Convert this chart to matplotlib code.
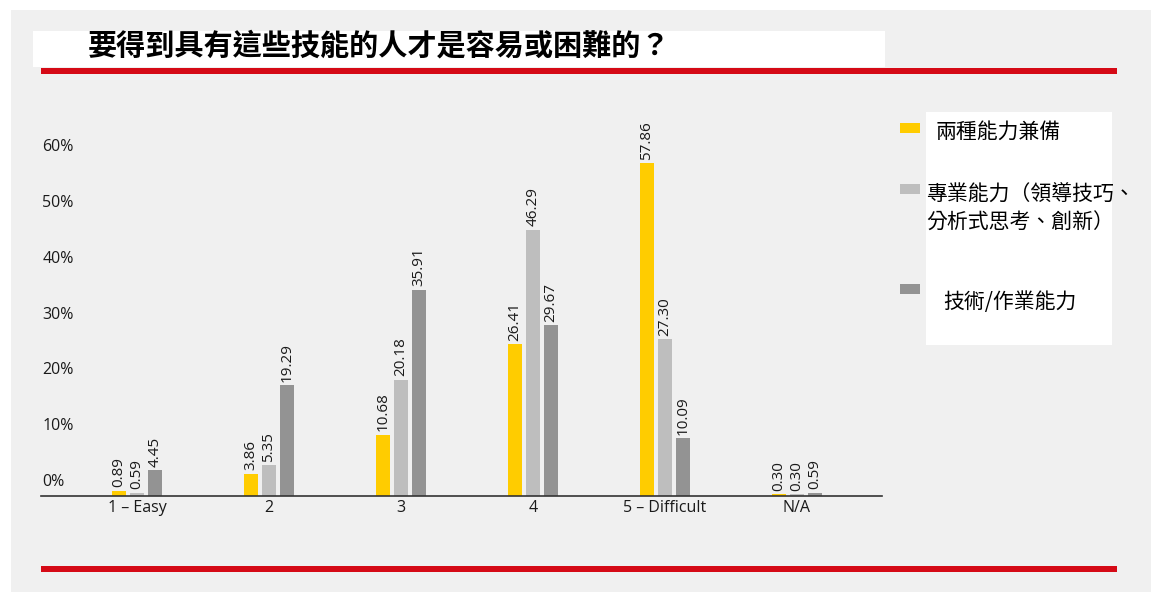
import matplotlib.pyplot as plt
from matplotlib.patches import Rectangle
import numpy as np

# 資料
categories = ['1 – Easy', '2', '3', '4', '5 – Difficult', 'N/A']
both = [0.89, 3.86, 10.68, 26.41, 57.86, 0.30]
professional = [0.59, 5.35, 20.18, 46.29, 27.30, 0.30]
technical = [4.45, 19.29, 35.91, 29.67, 10.09, 0.59]
series_names = ['兩種能力兼備', '專業能力（領導技巧、\n分析式思考、創新）', '技術/作業能力']
series_colors = ['#FFCC00', '#BEBEBE', '#939393']
ytick_values = [0, 10, 20, 30, 40, 50, 60]
title = '要得到具有這些技能的人才是容易或困難的？'

W, H = 1151, 592
fig = plt.figure(figsize=(W / 100, H / 100), dpi=100)
fig.patch.set_facecolor('white')


def box(x0, y0, x1, y1, color, z=0):
    # rectangle in pixel coords (top-left origin)
    fig.patches.append(Rectangle((x0 / W, 1 - y1 / H), (x1 - x0) / W, (y1 - y0) / H,
                                 transform=fig.transFigure, facecolor=color,
                                 edgecolor='none', zorder=z))


# fondo gris, caja del título, líneas rojas
box(11, 10, W, H, '#F0F0F0', -2)
box(33, 31, 885, 67, 'white', -1)
box(41, 68, 1117, 74, '#D50A16', -1)
box(41, 566, 1117, 572, '#D50A16', -1)

fig.text(88 / W, 1 - 46 / H, title, fontsize=21, weight='bold',
         family=['Noto Sans CJK TC', 'DejaVu Sans'], va='center', ha='left')

# ejes: x 41..882 px, base en y=496
ax = fig.add_axes([41 / W, 1 - 496 / H, (882 - 41) / W, (496 - 130) / H])
ax.set_facecolor('none')
ax.set_zorder(2)
x = np.arange(len(categories))
width = 0.102
pitch = 0.136
ax.set_xlim(-0.727, 5.644)
ax.set_ylim(0, 366 / 5.75)

for i, (vals, col) in enumerate(zip([both, professional, technical], series_colors)):
    pos = x + (i - 1) * pitch
    bars = ax.bar(pos, vals, width, color=col, zorder=2)
    for b, v in zip(bars, vals):
        ax.annotate(f'{v:.2f}', (b.get_x() + b.get_width() / 2, b.get_height()),
                    xytext=(0, 2.5), textcoords='offset points', rotation=90,
                    ha='center', va='bottom', fontsize=11, family='Open Sans',
                    color='#1a1a1a')

for s in ['top', 'right', 'left']:
    ax.spines[s].set_visible(False)
ax.spines['bottom'].set_color('#333333')
ax.spines['bottom'].set_linewidth(1.2)
ax.set_xticks(x)
ax.set_xticklabels(categories, fontsize=11.5, family='Open Sans', color='#1a1a1a')
ax.tick_params(axis='x', length=0, pad=3)

# en la fuente las etiquetas del eje y quedan algo por encima de su nivel real
ax.set_yticks([v * 0.97 + 2.8 for v in ytick_values])
ax.set_yticklabels([f'{v}%' for v in ytick_values], fontsize=11.5,
                   family='Open Sans', color='#1a1a1a', ha='left')
ax.tick_params(axis='y', length=0, pad=-1)

# leyenda
box(926, 112, 1112, 345, 'white', 1)
leg_rows = [(123, 132), (184, 209), (284, 302)]
text_x = [936, 926, 943]
for (sy, ty), name, col, tx in zip(leg_rows, series_names, series_colors, text_x):
    box(900, sy, 920, sy + 10, col, 2)
    fig.text(tx / W, 1 - ty / H, name, fontsize=15, va='center', ha='left',
             family=['Noto Sans CJK TC', 'DejaVu Sans'], linespacing=1.35, zorder=3)

fig.savefig('out.png', dpi=100, facecolor=fig.get_facecolor())
